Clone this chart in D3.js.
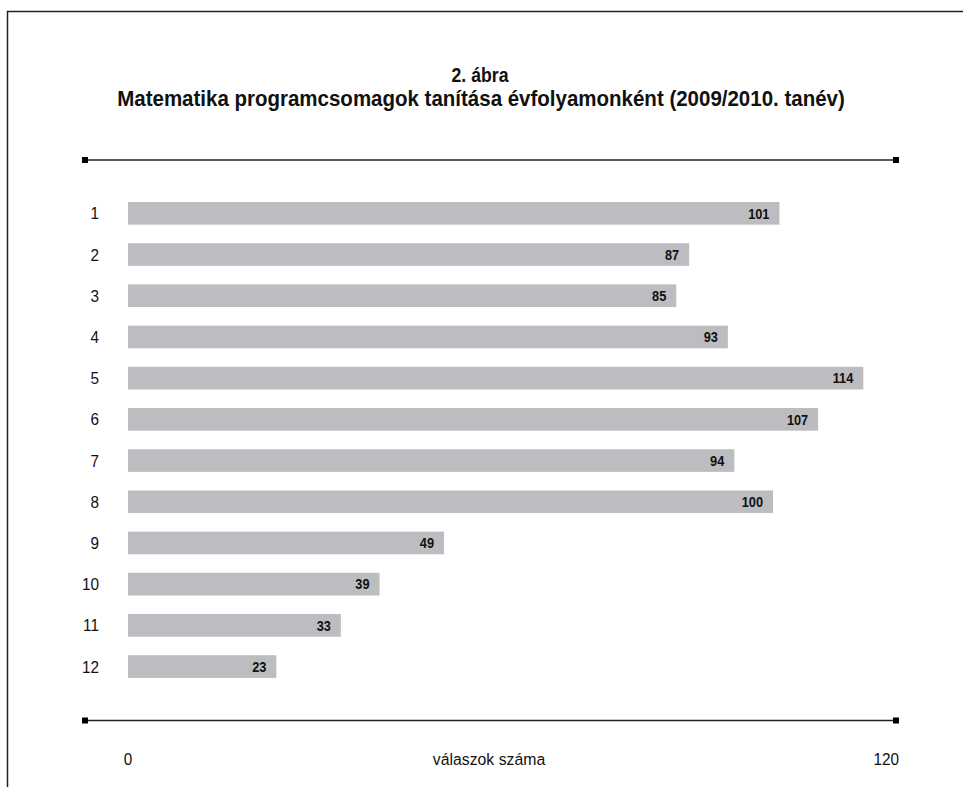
<!DOCTYPE html>
<html>
<head>
<meta charset="utf-8">
<script src="https://cdn.jsdelivr.net/npm/d3@7/dist/d3.min.js"></script>
<style>
  html, body { margin: 0; padding: 0; background: #fff; }
  svg { display: block; }
  text { font-family: "Liberation Sans", Arial, sans-serif; fill: #111; }
</style>
</head>
<body>
<svg id="chart" width="963" height="787"></svg>
<script>
const categories = ["1", "2", "3", "4", "5", "6", "7", "8", "9", "10", "11", "12"];
const values = [101, 87, 85, 93, 114, 107, 94, 100, 49, 39, 33, 23];
const xDomain = [0, 120];
const xTickLabels = ["0", "120"];
const titleLines = ["2. ábra", "Matematika programcsomagok tanítása évfolyamonként (2009/2010. tanév)"];
const xAxisTitle = "válaszok száma";

const svg = d3.select("#chart");

// frame
svg.append("path")
  .attr("d", "M7.5,787 V11.5 H963")
  .attr("fill", "none")
  .attr("stroke", "#222")
  .attr("stroke-width", 1.5);

// condensed text: placed at (px, baseline), squeezed horizontally
function ctext(parent, txt, px, by, size, weight, anchor, sx) {
  const g = parent.append("g").attr("transform", `translate(${px},${by}) scale(${sx},1)`);
  g.append("text")
    .attr("x", 0).attr("y", 0)
    .attr("text-anchor", anchor)
    .attr("font-weight", weight)
    .attr("font-size", size)
    .text(txt);
  return g;
}
function fitText(txt, cx, by, size, weight, targetWidth) {
  const g = ctext(svg, txt, cx, by, size, weight, "middle", 1);
  const len = g.select("text").node().getComputedTextLength();
  g.attr("transform", `translate(${cx},${by}) scale(${Math.min(1, targetWidth / len)},1)`);
}

// title
fitText(titleLines[0], 480, 82, 21, "bold", 57);
fitText(titleLines[1], 481, 106, 22, "bold", 728);

const x = d3.scaleLinear().domain(xDomain).range([128, 902]);
const y = d3.scaleBand().domain(categories).range([202, 677.9]).paddingInner(0.45).paddingOuter(0);

// rules
function rule(yy) {
  const g = svg.append("g");
  g.append("line").attr("x1", 85).attr("x2", 896).attr("y1", yy).attr("y2", yy)
    .attr("stroke", "#222").attr("stroke-width", 1.6);
  [85, 896].forEach(cx => {
    g.append("rect").attr("x", cx - 3).attr("y", yy - 3).attr("width", 6).attr("height", 6).attr("fill", "#000");
  });
}
rule(160);
rule(720.5);

// bars
svg.append("g").selectAll("rect")
  .data(values)
  .join("rect")
  .attr("x", x(0))
  .attr("y", (d, i) => y(categories[i]))
  .attr("width", d => x(d) - x(0))
  .attr("height", y.bandwidth())
  .attr("fill", "#bcbdc0");

// value labels
const vl = svg.append("g");
values.forEach((v, i) => {
  ctext(vl, String(v), x(v) - 10, y(categories[i]) + y.bandwidth() / 2 + 5.2, 14.5, "bold", "end", 0.88);
});

// category labels
const cl = svg.append("g");
categories.forEach(c => {
  ctext(cl, c, 99, y(c) + y.bandwidth() / 2 + 6, 17, "normal", "end", 0.9);
});

// x tick labels
ctext(svg, xTickLabels[0], x(xDomain[0]), 765, 17, "normal", "middle", 0.9);
ctext(svg, xTickLabels[1], x(xDomain[1]) - 3, 765, 17, "normal", "end", 0.9);

// axis title
ctext(svg, xAxisTitle, 489, 765, 17, "normal", "middle", 0.93);
</script>
</body>
</html>
